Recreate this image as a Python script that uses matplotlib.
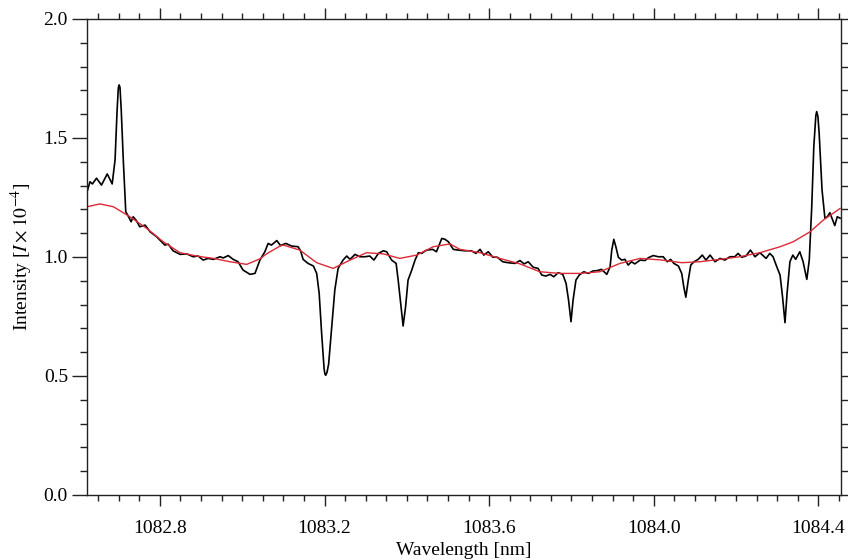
import matplotlib
matplotlib.use("Agg")
import matplotlib.pyplot as plt
from matplotlib.ticker import MultipleLocator, FormatStrFormatter

wave_obs = [
    1082.623, 1082.630, 1082.636, 1082.646, 1082.658, 1082.672, 1082.684, 1082.691,
    1082.696, 1082.699, 1082.701, 1082.703, 1082.706, 1082.711, 1082.717, 1082.723,
    1082.730, 1082.735,
    1082.742, 1082.751, 1082.764, 1082.776, 1082.792, 1082.812, 1082.820, 1082.832,
    1082.849, 1082.865, 1082.881, 1082.893, 1082.905, 1082.917, 1082.930, 1082.946,
    1082.954, 1082.966, 1082.978, 1082.990, 1083.002, 1083.019, 1083.031, 1083.043,
    1083.055, 1083.063, 1083.071, 1083.084, 1083.093, 1083.106, 1083.120, 1083.136,
    1083.142, 1083.148, 1083.160, 1083.173, 1083.181, 1083.187, 1083.193, 1083.199,
    1083.201, 1083.203, 1083.206, 1083.210, 1083.217, 1083.225, 1083.233, 1083.245,
    1083.254, 1083.262,
    1083.274, 1083.286, 1083.298, 1083.310, 1083.320, 1083.331, 1083.343, 1083.351,
    1083.363, 1083.374, 1083.379, 1083.385, 1083.391, 1083.397, 1083.403, 1083.412,
    1083.420, 1083.428, 1083.436, 1083.448, 1083.463, 1083.472, 1083.485, 1083.493,
    1083.501, 1083.513, 1083.525, 1083.541, 1083.557, 1083.568, 1083.578, 1083.587,
    1083.598, 1083.609, 1083.620, 1083.633, 1083.646, 1083.663, 1083.675, 1083.685,
    1083.695, 1083.707, 1083.719, 1083.728, 1083.738, 1083.748, 1083.757, 1083.768,
    1083.779, 1083.787, 1083.793, 1083.799, 1083.804, 1083.811, 1083.819, 1083.830,
    1083.841, 1083.852, 1083.863, 1083.873, 1083.886, 1083.894, 1083.898, 1083.903,
    1083.908, 1083.914, 1083.922, 1083.930, 1083.938, 1083.946, 1083.954, 1083.967,
    1083.979, 1083.987, 1083.999, 1084.011, 1084.023, 1084.033, 1084.041, 1084.049,
    1084.060, 1084.068, 1084.073, 1084.078, 1084.084, 1084.090, 1084.098, 1084.108,
    1084.118, 1084.127, 1084.137, 1084.149, 1084.161, 1084.173, 1084.185, 1084.197,
    1084.205, 1084.214, 1084.224, 1084.235, 1084.246, 1084.258, 1084.273, 1084.282,
    1084.290, 1084.299, 1084.307, 1084.313, 1084.319, 1084.324, 1084.331, 1084.338,
    1084.345, 1084.355, 1084.363, 1084.372, 1084.378, 1084.384, 1084.389, 1084.394,
    1084.396, 1084.399,
    1084.402, 1084.409, 1084.416, 1084.422, 1084.428, 1084.435, 1084.440, 1084.446,
    1084.453,
]
int_obs = [
    1.274, 1.316, 1.307, 1.331, 1.302, 1.349, 1.307, 1.408,
    1.618, 1.712, 1.723, 1.712, 1.618, 1.408, 1.190, 1.172,
    1.148, 1.169,
    1.155, 1.127, 1.134, 1.106, 1.085, 1.050, 1.054, 1.026,
    1.011, 1.013, 1.001, 1.004, 0.987, 0.994, 0.990, 1.001,
    0.996, 1.006, 0.990, 0.980, 0.945, 0.927, 0.931, 0.987,
    1.022, 1.057, 1.050, 1.069, 1.048, 1.057, 1.046, 1.043,
    1.025, 0.990, 0.973, 0.962, 0.931, 0.847, 0.679, 0.530,
    0.508, 0.503, 0.515, 0.550, 0.693, 0.861, 0.952, 0.987,
    1.004, 0.990,
    1.011, 1.001, 1.001, 1.004, 0.987, 1.015, 1.026, 1.022,
    0.987, 0.973, 0.903, 0.805, 0.710, 0.791, 0.903, 0.945,
    0.987, 1.018, 1.015, 1.029, 1.032, 1.022, 1.078, 1.074,
    1.064, 1.032, 1.029, 1.026, 1.026, 1.015, 1.032, 1.008,
    1.022, 0.999, 0.999, 0.980, 0.976, 0.973, 0.985, 0.971,
    0.980, 0.957, 0.952, 0.924, 0.920, 0.927, 0.917, 0.934,
    0.927, 0.889, 0.819, 0.728, 0.819, 0.903, 0.924, 0.938,
    0.931, 0.941, 0.943, 0.948, 0.927, 0.959, 1.029, 1.074,
    1.043, 0.999, 0.987, 0.990, 0.966, 0.980, 0.971, 0.987,
    0.985, 0.997, 1.006, 1.001, 1.001, 0.980, 0.990, 0.973,
    0.962, 0.931, 0.875, 0.831, 0.903, 0.966, 0.980, 0.990,
    1.008, 0.987, 1.008, 0.980, 0.994, 0.987, 1.001, 1.001,
    1.015, 0.999, 1.004, 1.029, 1.001, 1.018, 0.994, 1.015,
    1.001, 0.959, 0.924, 0.833, 0.724, 0.847, 0.980, 1.008,
    0.990, 1.022, 0.980, 0.906, 0.987, 1.211, 1.463, 1.595,
    1.611, 1.590,
    1.520, 1.282, 1.163, 1.169, 1.186, 1.155, 1.132, 1.169,
    1.163,
]

# smooth reference profile (red)
wave_fit = [
    1082.623, 1082.654, 1082.687, 1082.727, 1082.768, 1082.808, 1082.849, 1082.889,
    1082.930, 1082.970, 1083.011, 1083.043, 1083.059, 1083.092, 1083.100, 1083.140,
    1083.181, 1083.221, 1083.262, 1083.302, 1083.343, 1083.383, 1083.424, 1083.464,
    1083.505, 1083.529, 1083.578, 1083.626, 1083.675, 1083.723, 1083.772, 1083.821,
    1083.869, 1083.918, 1083.967, 1084.015, 1084.068, 1084.112, 1084.161, 1084.209,
    1084.258, 1084.307, 1084.339, 1084.380, 1084.412, 1084.453,
]
int_fit = [
    1.211, 1.223, 1.211, 1.169, 1.120, 1.064, 1.018, 1.004,
    0.994, 0.980, 0.969, 0.992, 1.013, 1.046, 1.050, 1.029,
    0.976, 0.952, 0.987, 1.018, 1.013, 0.994, 1.008, 1.043,
    1.055, 1.032, 1.018, 0.994, 0.971, 0.938, 0.931, 0.931,
    0.938, 0.973, 0.994, 0.988, 0.976, 0.980, 0.990, 1.001,
    1.018, 1.043, 1.064, 1.106, 1.155, 1.204,
]

plt.rcParams['font.family'] = ['Liberation Serif', 'DejaVu Serif']
plt.rcParams['mathtext.fontset'] = 'stix'

fig = plt.figure(figsize=(8.48, 5.6), dpi=100)
ax = fig.add_axes([0.1022, 0.1161, 0.8895, 0.8500])

ax.plot(wave_obs, int_obs, color='black', lw=1.2)
ax.plot(wave_fit, int_fit, color='#dc2a36', lw=1.0)

ax.set_xlim(1082.622, 1084.455)
ax.set_ylim(0.0, 2.0)

ax.xaxis.set_major_locator(MultipleLocator(0.4))
ax.xaxis.set_minor_locator(MultipleLocator(0.05))
ax.yaxis.set_major_locator(MultipleLocator(0.5))
ax.yaxis.set_minor_locator(MultipleLocator(0.1))
ax.xaxis.set_major_formatter(FormatStrFormatter('%.1f'))
ax.yaxis.set_major_formatter(FormatStrFormatter('%.1f'))

ax.tick_params(which='both', direction='out', top=True, right=True,
               width=1.0, colors='#222222', labelcolor='black', labelsize=14)
ax.tick_params(axis='x', which='major', length=8, pad=10)
ax.tick_params(axis='x', which='minor', length=4)
ax.tick_params(axis='y', which='major', length=10.5, pad=3)
ax.tick_params(axis='y', which='minor', length=5)

for sp in ax.spines.values():
    sp.set_linewidth(1.0)
    sp.set_color('#222222')

ax.set_xlabel('Wavelength [nm]', fontsize=14, labelpad=3.5)
ax.set_ylabel(r'Intensity [$I \times 10^{-4}$]', fontsize=14, labelpad=6)

fig.savefig('out.png', dpi=100)
